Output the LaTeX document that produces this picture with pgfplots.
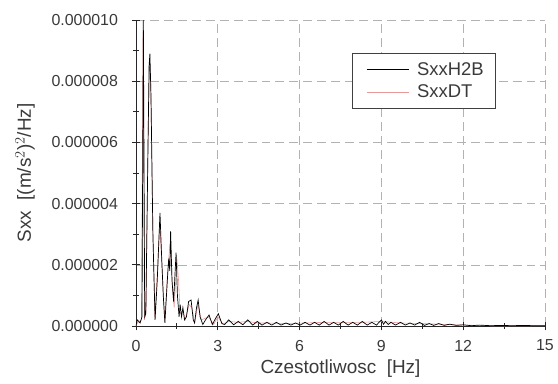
\documentclass[border=0pt]{standalone}
\usepackage{pgfplots}
\pgfplotsset{compat=1.18}
\usepackage{pgfplotstable}
\usepackage{fontspec}
\setmainfont{Liberation Sans}
\definecolor{txt}{HTML}{3A3A3A}
\definecolor{redl}{HTML}{E89A9A}
\pgfplotstableread{
x y
0 0
0.05 2e-7
0.15 1e-7
0.22 3e-7
0.27 1.0e-5
0.32 3e-7
0.36 4e-7
0.42 4.5e-6
0.48 8.5e-6
0.51 8.9e-6
0.55 7.5e-6
0.62 3.0e-6
0.70 2e-7
0.78 1.5e-6
0.88 3.7e-6
0.93 2.5e-6
1.00 1.0e-6
1.06 1e-7
1.15 1.5e-6
1.20 2.2e-6
1.24 1.8e-6
1.27 3.1e-6
1.32 1.5e-6
1.38 8e-7
1.47 2.4e-6
1.52 1.0e-6
1.58 3e-7
1.62 7e-7
1.67 3e-7
1.72 6e-7
1.78 2e-7
1.85 3e-7
1.93 8e-7
2.02 8.5e-7
2.10 2e-7
2.15 1e-7
2.22 6e-7
2.28 8.5e-7
2.35 3e-7
2.45 5e-8
2.55 2e-7
2.68 3.6e-7
2.80 5e-8
2.92 2.5e-7
3.02 4e-7
3.15 8e-8
3.25 5e-8
3.40 2e-7
3.58 4e-8
3.75 1.5e-7
3.92 4e-8
4.10 2e-7
4.28 3e-8
4.45 1.5e-7
4.62 3e-8
4.80 1.2e-7
4.98 3e-8
5.15 1.2e-7
5.32 3e-8
5.50 1.0e-7
5.68 3e-8
5.85 1.0e-7
6.02 3e-8
6.20 1.2e-7
6.38 3e-8
6.55 1.2e-7
6.72 3e-8
6.90 1.5e-7
7.08 3e-8
7.25 1.2e-7
7.42 3e-8
7.60 1.5e-7
7.78 3e-8
7.95 1.2e-7
8.12 3e-8
8.30 1.5e-7
8.48 3e-8
8.65 1.2e-7
8.82 3e-8
9.00 2e-7
9.08 6e-8
9.15 1.5e-7
9.25 5e-8
9.35 1.2e-7
9.52 3e-8
9.70 1.2e-7
9.88 3e-8
10.05 1.0e-7
10.22 3e-8
10.40 1.2e-7
10.58 2e-8
10.75 8e-8
10.92 2e-8
11.10 8e-8
11.30 2e-8
11.50 6e-8
11.75 2e-8
12.00 4e-8
12.30 1e-8
12.60 3e-8
13.00 1e-8
13.40 2e-8
13.80 1e-8
14.20 2e-8
14.60 1e-8
15.00 1e-8
}\black
\pgfplotstableread{
x y
0 0
0.05 1e-7
0.20 2e-7
0.26 9.6e-6
0.31 2e-7
0.37 5e-7
0.44 6.0e-6
0.50 8.6e-6
0.54 8.0e-6
0.60 4.0e-6
0.69 3e-7
0.80 2.0e-6
0.87 3.4e-6
0.95 2.0e-6
1.05 2e-7
1.18 2.0e-6
1.26 2.8e-6
1.34 1.2e-6
1.40 6e-7
1.50 2.2e-6
1.56 1.5e-6
1.62 4e-7
1.72 5e-7
1.80 2e-7
1.95 7e-7
2.05 6e-7
2.15 1e-7
2.27 7e-7
2.40 2e-7
2.66 3e-7
2.85 5e-8
3.00 3e-7
3.20 5e-8
3.40 1.5e-7
3.75 1.2e-7
4.10 1.5e-7
4.45 1e-7
4.80 1e-7
5.50 8e-8
6.20 1e-7
6.90 1.2e-7
7.60 1.2e-7
8.30 1.2e-7
9.00 1.5e-7
9.70 1e-7
10.40 8e-8
11.10 6e-8
12.00 3e-8
13.00 1e-8
15.00 1e-8
}\red
\begin{document}
\begin{tikzpicture}
\begin{axis}[
  scale only axis,
  width=409bp, height=306bp,
  xmin=0, xmax=15, ymin=0, ymax=1e-5,
  axis lines=left,
  axis line style={-, draw=black!85, line width=0.9pt},
  xtick={0,3,...,15},
  ytick={0,2e-6,4e-6,6e-6,8e-6,1e-5},
  minor x tick num=1,
  minor y tick num=1,
  tick align=center,
  major tick length=9pt,
  minor tick length=6pt,
  tick style={black!85, line width=0.9pt},
  scaled y ticks=false,
  yticklabel style={/pgf/number format/fixed, /pgf/number format/fixed zerofill,
    /pgf/number format/precision=6, /pgf/number format/assume math mode=true, xshift=-10bp},
  xticklabel style={/pgf/number format/assume math mode=true, yshift=-6bp},
  ticklabel style={font=\fontsize{16}{18}\selectfont, text=txt},
  grid=major,
  major grid style={gray!60, dash pattern=on 9pt off 5pt, line width=0.6pt},
  xlabel={Czestotliwosc\ \ [Hz]},
  ylabel={Sxx\ \ [(m/s$^2$)$^2$/Hz]},
  label style={font=\fontsize{19}{21}\selectfont, text=txt},
  xlabel style={at={(axis description cs:0.5,-0.14)}, anchor=center},
  ylabel style={at={(axis description cs:-0.271,0.5)}, anchor=center},
  legend style={at={(0.528,0.892)}, anchor=north west, draw=black!75, line width=0.8pt,
    font=\fontsize{18.5}{21}\selectfont, text=txt, inner xsep=10bp, inner ysep=7bp, row sep=4bp},
  legend cell align=left,
  legend image code/.code={\path (-4bp,0bp) (48bp,0bp); \draw[#1] (0bp,0bp) -- (42bp,0bp);},
  clip=true,
]
\addplot[redl, line width=0.6pt, forget plot] table {\red};
\addplot[black, line width=0.7pt] table {\black};
\addlegendentry{SxxH2B}
\addlegendimage{redl, line width=0.8pt}
\addlegendentry{SxxDT}
\coordinate (bl) at (rel axis cs:-0.3325,-0.1863);
\coordinate (tr) at (rel axis cs:1.0318,1.0654);
\end{axis}
\pgfresetboundingbox
\path[use as bounding box] (bl) rectangle (tr);
\end{tikzpicture}
\end{document}
